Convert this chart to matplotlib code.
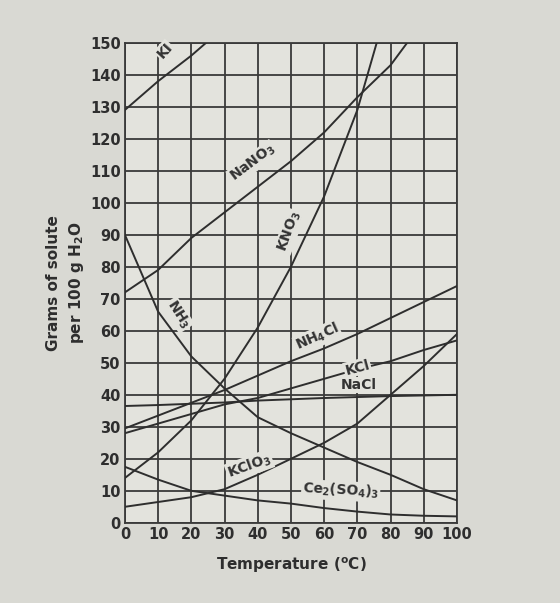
import matplotlib
matplotlib.use("Agg")
import matplotlib.pyplot as plt

plt.rcParams["mathtext.default"] = "regular"

temps = [0, 10, 20, 30, 40, 50, 60, 70, 80, 90, 100]

KI = [129, 138, 146, 155, 164, 173, 182, 191, 200, 209, 218]
NaNO3 = [72, 79, 89, 97, 105, 113, 122, 133, 143, 157, 170]
KNO3 = [14, 22, 32, 45, 61, 80, 102, 129, 165, 200, 240]
NH3 = [90, 66, 52, 42, 33, 28, 23.5, 19, 15, 10.5, 7]
NH4Cl = [29.5, 33.5, 37.5, 41.5, 46, 50.5, 54.5, 59, 64, 69, 74]
KCl = [28, 31, 34, 37, 39, 42, 45, 48, 50.5, 54, 57]
NaCl = [36.5, 36.8, 37.2, 37.6, 38.2, 38.6, 39, 39.3, 39.6, 39.8, 40]
KClO3 = [5, 6.5, 8, 10.5, 15, 20, 25, 31, 40, 49, 59]
Ce2SO43 = [17.5, 13.5, 10, 8.5, 7, 6, 4.6, 3.5, 2.6, 2.2, 2]

series = [KI, NaNO3, KNO3, NH3, NH4Cl, KCl, NaCl, KClO3, Ce2SO43]

labels = ["KI", "NaNO$_3$", "KNO$_3$", "NH$_3$", "NH$_4$Cl", "KCl", "NaCl",
          "KClO$_3$", "Ce$_2$(SO$_4$)$_3$"]
label_x = [12, 38.5, 49.5, 16, 58, 70, 70.5, 37.5, 65]
label_y = [147.5, 112.5, 91, 65, 58, 48.5, 43, 17.8, 10]
label_rot = [48, 37, 70, -57, 24, 15, 0, 20, -3]

xticks = [0, 10, 20, 30, 40, 50, 60, 70, 80, 90, 100]
yticks = [0, 10, 20, 30, 40, 50, 60, 70, 80, 90, 100, 110, 120, 130, 140, 150]

bg = "#e3e3dd"
ink = "#2e2e2e"

fig = plt.figure(figsize=(5.6, 6.03), dpi=100, facecolor="#d9d9d3")
ax = fig.add_axes([0.223, 0.133, 0.593, 0.796])
ax.set_facecolor(bg)

for y in series:
    ax.plot(temps, y, color=ink, lw=1.4, zorder=3)

for lab, lx, ly, r in zip(labels, label_x, label_y, label_rot):
    ax.text(lx, ly, lab, rotation=r, ha="center", va="center", fontsize=10,
            fontweight="bold", color="#333333", zorder=4,
            bbox=dict(facecolor=bg, edgecolor="none", pad=0.8))

ax.set_xlim(0, 100)
ax.set_ylim(0, 150)
ax.set_xticks(xticks)
ax.set_yticks(yticks)
ax.grid(True, color="#3a3a3a", lw=1.3, zorder=1)
ax.set_axisbelow(True)
for s in ax.spines.values():
    s.set_color("#3a3a3a")
    s.set_linewidth(1.3)
ax.tick_params(length=0, pad=3, labelsize=10.5, colors=ink)
for t in ax.get_xticklabels() + ax.get_yticklabels():
    t.set_fontweight("bold")

ax.set_xlabel("Temperature ($^{o}$C)", fontsize=11, fontweight="bold",
              color=ink, labelpad=10)
ax.set_ylabel("Grams of solute\nper 100 g H$_2$O", fontsize=11,
              fontweight="bold", color=ink, labelpad=3, linespacing=1.4)

fig.savefig("out.png", dpi=100, facecolor=fig.get_facecolor())
